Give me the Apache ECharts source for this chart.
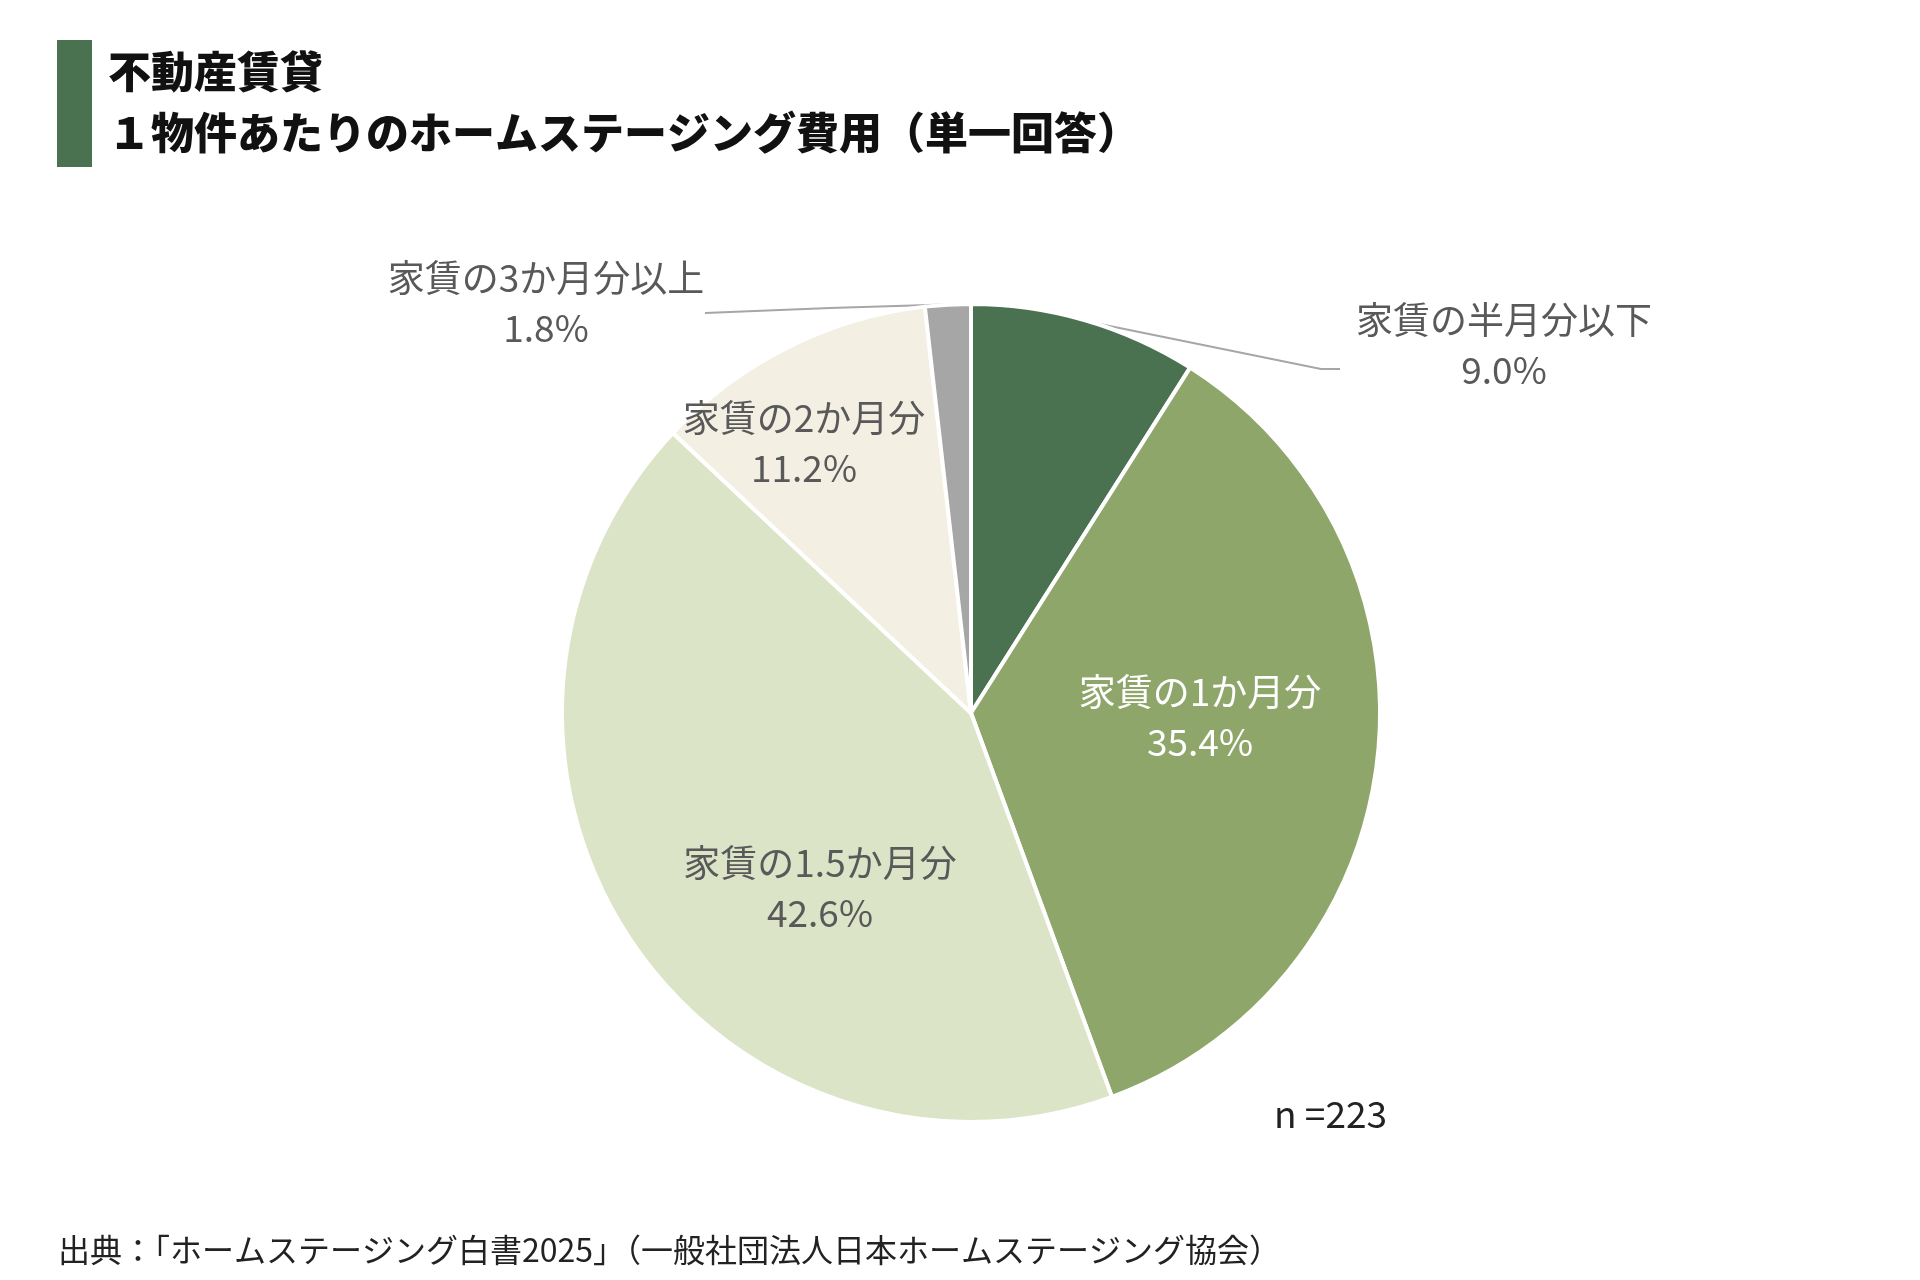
<!DOCTYPE html>
<html><head><meta charset="utf-8">
<script src="https://cdn.jsdelivr.net/npm/echarts@6/dist/echarts.min.js"></script>
<style>html,body{margin:0;padding:0;background:#fff}#c{width:1920px;height:1280px}</style>
</head><body><div id="c"></div>
<script>
const categories = ['家賃の半月分以下','家賃の1か月分','家賃の1.5か月分','家賃の2か月分','家賃の3か月分以上'];
const values = [9.0, 35.4, 42.6, 11.2, 1.8];
const colors = ['#4a7150','#8fa66b','#dce4c7','#f3f0e3','#a6a6a6'];
const labelColors = ['#595959','#ffffff','#595959','#595959','#595959'];
const titleLine1 = '不動産賃貸';
const titleLine2 = '１物件あたりのホームステージング費用（単一回答）';
const sampleNote = 'n =223';
const sourceNote = '出典：「ホームステージング白書2025」（一般社団法人日本ホームステージング協会）';

const FONT = '"Noto Sans CJK JP", "Noto Sans", sans-serif';
const CX = 971, CY = 713, R = 409;
// label anchor positions (centre of label block) per slice
const labelPos = [[1504, 345], [1200, 717], [820, 888], [804, 443], [546, 303]];
const linePts = [
  [[1085, 321], [1321, 369], [1340, 369]],
  null, null, null,
  [[962, 304], [830, 308], [705, 313]]
];

const chart = echarts.init(document.getElementById('c'));
chart.setOption({
  backgroundColor: '#ffffff',
  animation: false,
  graphic: [
    { type: 'rect', shape: { x: 57, y: 40, width: 35, height: 127 }, style: { fill: '#4a7150' } },
    { type: 'text', left: 108, top: 50, style: { text: titleLine1, font: '900 43px ' + FONT, fill: '#111111' } },
    { type: 'text', left: 108, top: 111, style: { text: titleLine2, font: '900 43px ' + FONT, fill: '#111111' } },
    { type: 'text', left: 1274, top: 1095, style: { text: sampleNote, font: '37px ' + FONT, fill: '#222222' } },
    { type: 'text', left: 58, top: 1234, style: { text: sourceNote, font: '32px ' + FONT, fill: '#222222' } }
  ],
  series: [{
    type: 'pie',
    center: [CX, CY],
    radius: R,
    startAngle: 90,
    clockwise: true,
    label: {
      show: true,
      position: 'inside',
      fontFamily: FONT,
      fontSize: 37,
      lineHeight: 50,
      align: 'center',
      formatter: p => p.name + '\n' + p.value.toFixed(1) + '%'
    },
    labelLine: { show: true, lineStyle: { color: '#a6a6a6', width: 2 } },
    labelLayout: function (params) {
      const i = params.dataIndex;
      const res = { x: labelPos[i][0], y: labelPos[i][1], align: 'center', verticalAlign: 'middle' };
      if (linePts[i]) res.labelLinePoints = linePts[i];
      return res;
    },
    itemStyle: { borderColor: '#ffffff', borderWidth: 4 },
    data: categories.map((c, i) => ({
      name: c,
      value: values[i],
      itemStyle: { color: colors[i] },
      label: { color: labelColors[i], position: (i === 0 || i === 4) ? 'outside' : 'inside' },
      labelLine: { show: (i === 0 || i === 4) }
    }))
  }]
});
</script></body></html>
